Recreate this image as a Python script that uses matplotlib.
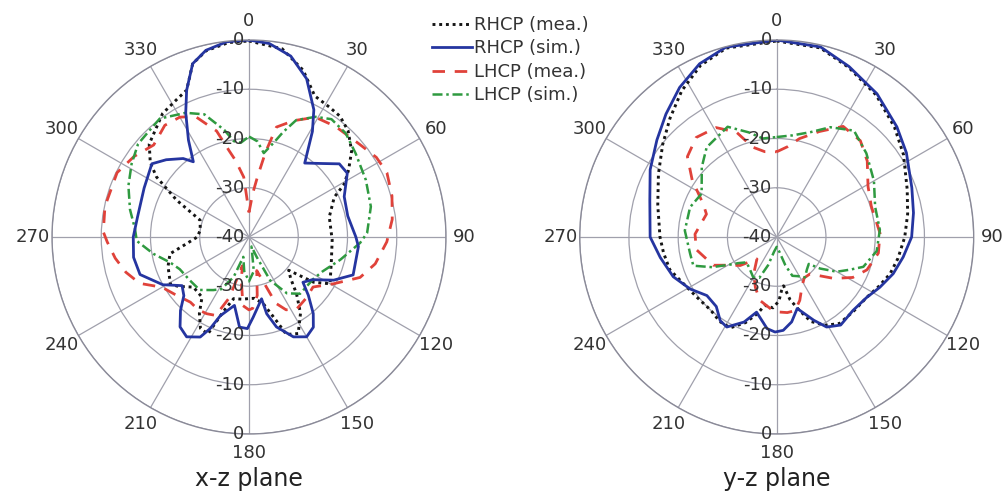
import numpy as np
import matplotlib
matplotlib.use("Agg")
import matplotlib.pyplot as plt
from matplotlib.lines import Line2D
from matplotlib.transforms import offset_copy

plt.rcParams.update({"font.family": "DejaVu Sans", "text.color": "#333333"})

# ---------------------------------------------------------------- data (deg, dB)
# x-z plane
xz_rm_deg = [0, 10, 18, 25, 32, 37, 43, 50, 56, 61, 65, 76, 92, 106, 120, 125, 130, 135, 140, 146,
             153, 159, 162, 168, 175, 180, 186, 194, 199, 203, 208, 213, 218, 228, 235, 239, 250,
             258, 264, 270, 278, 289, 297, 303, 307, 313, 325, 332, 337, 342, 347, 354]
xz_rm_db = [-0.2, -1.2, -4.4, -8.4, -9.0, -9.3, -10.5, -12.8, -15.6, -17.9, -20.9, -23.2, -23.1,
            -22.6, -21.0, -24.0, -29.5, -28.0, -25.0, -21.3, -18.0, -18.8, -22.2, -26.2, -27.5,
            -27.5, -27.3, -27.1, -24.0, -18.6, -19.0, -21.5, -24.5, -24.8, -22.5, -21.4, -22.5,
            -23.6, -27.3, -29.5, -30.0, -29.5, -23.5, -17.6, -14.9, -12.3, -9.4, -8.5, -7.6,
            -3.0, -1.2, -0.3]

xz_rs_deg = [0, 6, 13, 20, 27, 31, 37, 45, 51, 57, 67, 78, 90, 95, 110, 117, 124, 130, 134.5, 140,
             144.5, 150, 156, 163, 167, 168.5, 177, 181, 186, 192, 200, 203, 206, 212, 217.5, 223,
             228, 234, 241, 251, 260, 270, 280, 295, 307, 313, 320, 323.5, 328, 333, 337, 342, 347,
             353.5]
xz_rs_db = [0, -0.5, -2.3, -5.8, -11.0, -15.0, -21.2, -18.9, -16.4, -16.2, -19.0, -19.5, -18.3,
            -17.7, -17.5, -20.7, -24.5, -25.7, -23.1, -19.7, -17.5, -16.6, -17.8, -20.9, -24.0,
            -27.2, -23.7, -21.4, -21.6, -25.8, -23.0, -19.8, -17.4, -16.1, -17.0, -19.6, -22.2,
            -23.2, -20.0, -16.6, -16.2, -16.5, -17.0, -16.5, -15.3, -17.0, -19.2, -21.0, -16.8,
            -11.7, -7.6, -3.0, -1.1, -0.1]

xz_lm_deg = [0, 5, 8, 11, 14, 21, 29, 38, 50, 58, 65, 74, 83, 92, 102, 110, 119, 128, 137, 146,
             153, 158, 163, 167, 172, 177, 180, 185, 190, 193, 198, 203, 209, 215, 222, 232, 240,
             247, 254, 261, 268, 272, 282, 296, 305, 314, 323, 330, 336, 343, 347, 350, 355]
xz_lm_db = [-35.0, -31.0, -27.7, -22.5, -17.0, -14.7, -12.2, -11.5, -10.7, -9.5, -9.1, -9.8,
            -10.7, -12.0, -13.8, -16.0, -20.4, -23.5, -23.0, -22.5, -23.4, -25.5, -31.0, -33.0,
            -28.0, -25.5, -25.2, -26.0, -31.0, -34.0, -27.0, -22.7, -22.2, -22.0, -22.2, -21.0,
            -19.6, -15.9, -14.0, -12.5, -11.2, -10.4, -10.1, -10.2, -11.5, -13.1, -11.6, -11.9,
            -13.2, -17.5, -22.0, -24.2, -27.8]

xz_ls_deg = [0, 5, 10, 15, 18, 22, 29, 35, 43, 52, 64, 76, 88, 93, 104, 115, 123, 138, 146, 154,
             159, 165, 172, 180, 188, 196, 201, 208, 214, 223, 234, 245, 252, 260, 268, 274, 283,
             293, 302, 310, 317, 323, 333, 340, 347, 351, 355]
xz_ls_db = [-19.6, -20.5, -22.7, -20.0, -17.6, -14.4, -12.1, -10.8, -11.2, -12.5, -13.6, -14.5,
            -16.0, -17.4, -20.9, -23.5, -24.4, -24.5, -26.2, -30.2, -35.7, -38.0, -33.0, -31.0,
            -33.0, -35.8, -31.3, -28.0, -27.0, -25.3, -25.1, -24.5, -23.2, -20.3, -17.2, -16.8,
            -15.2, -13.4, -11.9, -10.6, -10.4, -9.9, -11.7, -13.5, -17.7, -20.3, -20.8]

# y-z plane
yz_rm_deg = [0, 13, 23, 35, 47, 57, 70, 80, 90, 100, 108, 116, 124, 134, 144, 151, 158, 163, 168,
             172, 175, 178, 183, 190, 194, 200, 207, 214, 222, 233, 241, 253, 262, 270, 285, 298,
             309, 318, 327, 336, 345]
yz_rm_db = [-0.2, -0.6, -2.6, -4.8, -7.3, -9.3, -11.8, -13.0, -14.0, -15.0, -15.8, -17.0, -18.0,
            -18.3, -18.3, -19.5, -21.5, -24.5, -27.0, -30.0, -29.0, -27.0, -25.6, -25.9, -24.0,
            -21.5, -19.3, -19.3, -20.0, -19.7, -19.1, -17.3, -16.8, -16.3, -15.0, -12.8, -10.2,
            -7.6, -4.6, -1.9, -0.3]

yz_rs_deg = [0, 13, 23, 35, 47.5, 57, 70, 80, 90, 99, 107.5, 116, 124, 134, 144, 151, 156, 164,
             170, 176, 181, 186, 195, 201, 209, 214, 221, 230, 239, 249, 260, 270, 286, 298, 309,
             318, 327, 336, 345]
yz_rs_db = [0, -0.4, -2.4, -4.5, -6.9, -8.6, -10.8, -11.8, -12.6, -14.0, -15.2, -16.7, -18.0,
            -18.5, -17.9, -19.1, -21.5, -24.9, -22.5, -21.0, -20.7, -21.3, -24.2, -21.5, -19.1,
            -19.5, -21.3, -21.5, -19.5, -17.5, -16.0, -14.3, -13.2, -10.9, -8.7, -6.4, -3.8,
            -1.5, -0.1]

yz_lm_deg = [0, 7, 13, 22, 31, 41, 50, 61, 72, 88, 99, 110, 118, 126, 138, 146, 153, 160, 166,
             172, 180, 185, 195, 203, 212, 222, 232, 237, 246, 261, 272, 288, 294, 304, 312, 321,
             331, 339, 345, 352]
yz_lm_db = [-22.7, -21.5, -19.5, -16.9, -13.8, -14.1, -16.0, -18.8, -19.8, -19.0, -19.1, -20.5,
            -22.5, -25.7, -29.9, -30.0, -28.7, -26.3, -24.6, -24.5, -24.8, -25.4, -26.7, -28.9,
            -31.2, -34.0, -30.6, -29.5, -25.9, -23.5, -23.4, -25.0, -23.7, -19.3, -15.6, -14.0,
            -14.6, -17.2, -21.1, -22.5]

yz_ls_deg = [0, 9, 18, 26, 36, 47, 60, 73, 86, 98, 109, 114, 120, 126, 130, 137, 145, 152, 158,
             163, 170, 180, 190, 197, 203, 210, 220, 230, 236, 238, 245, 251, 259, 274, 289, 300,
             313, 322, 336, 345, 352]
yz_ls_db = [-19.7, -19.1, -17.6, -15.2, -13.3, -15.1, -17.2, -19.1, -19.0, -19.5, -21.4, -23.7,
            -25.9, -29.1, -31.5, -31.0, -30.0, -31.0, -31.5, -34.0, -37.0, -38.0, -37.0, -34.0,
            -31.0, -30.5, -31.5, -32.0, -30.5, -29.6, -25.5, -22.1, -22.1, -21.3, -21.4, -22.4,
            -19.2, -16.9, -15.5, -18.0, -19.8]

labels = ["RHCP (mea.)", "RHCP (sim.)", "LHCP (mea.)", "LHCP (sim.)"]
theta_ticks = list(range(0, 360, 30))
r_ticks = [-40, -30, -20, -10, 0]

# ---------------------------------------------------------------- styling
GRID = "#a0a0ac"
styles = {
    "rm": dict(color="#151515", lw=2.1, ls=(0, (1.0, 1.3))),
    "rs": dict(color="#2535a0", lw=2.0, ls="-"),
    "lm": dict(color="#e0423a", lw=2.0, ls=(0, (4.5, 3.5))),
    "ls": dict(color="#2f9a40", lw=1.8, ls=(0, (4, 1.5, 1, 1.5))),
}


def closed(deg, db):
    t = np.deg2rad(deg + [deg[0]])
    return t, db + [db[0]]


def polar_panel(ax, curves):
    ax.set_theta_zero_location("N")
    ax.set_theta_direction(-1)
    ax.set_rlim(-40, 0)
    ax.set_rticks([-30, -20, -10, 0])
    ax.set_yticklabels([])
    ax.set_thetagrids(theta_ticks, [str(t) for t in theta_ticks], fontsize=13, color="#333333")
    ax.tick_params(axis="x", pad=3)
    ax.grid(True, color=GRID, lw=0.9)
    ax.spines["polar"].set_color("#8a8a98")
    ax.spines["polar"].set_linewidth(1.0)
    for key in ["rm", "lm", "ls", "rs"]:
        deg, db = curves[key]
        t, r = closed(deg, db)
        ax.plot(t, r, **styles[key])
    # radial labels along the vertical axis, both directions
    tr = offset_copy(ax.transData, fig=ax.figure, x=-3.5, y=0, units="points")
    for v in r_ticks:
        ax.text(0, v, str(v), transform=tr, ha="right", va="center", fontsize=13,
                color="#333333")
        if v != -40:
            ax.text(np.pi, v, str(v), transform=tr, ha="right", va="center", fontsize=13,
                    color="#333333")


fig = plt.figure(figsize=(10.02, 4.91), dpi=100)
R = 197
axL = fig.add_axes([(249 - R) / 1002, (491 - 237 - R) / 491, 2 * R / 1002, 2 * R / 491],
                   projection="polar")
axR = fig.add_axes([(776.7 - R) / 1002, (491 - 237 - R) / 491, 2 * R / 1002, 2 * R / 491],
                   projection="polar")

polar_panel(axL, {"rm": (xz_rm_deg, xz_rm_db), "rs": (xz_rs_deg, xz_rs_db),
                  "lm": (xz_lm_deg, xz_lm_db), "ls": (xz_ls_deg, xz_ls_db)})
polar_panel(axR, {"rm": (yz_rm_deg, yz_rm_db), "rs": (yz_rs_deg, yz_rs_db),
                  "lm": (yz_lm_deg, yz_lm_db), "ls": (yz_ls_deg, yz_ls_db)})

fig.text(249 / 1002, 1 - 479 / 491, "x-z plane", ha="center", va="center", fontsize=17,
         color="#222222")
fig.text(776.7 / 1002, 1 - 479 / 491, "y-z plane", ha="center", va="center", fontsize=17,
         color="#222222")

handles = [Line2D([], [], **styles[k]) for k in ["rm", "rs", "lm", "ls"]]
fig.legend(handles, labels, loc="upper left", bbox_to_anchor=(432 / 1002, 1 - 16 / 491),
           frameon=False, fontsize=13, handlelength=2.2, handletextpad=0.15,
           labelspacing=0.3, borderpad=0, borderaxespad=0)

fig.savefig("out.png", dpi=100, facecolor="white")
